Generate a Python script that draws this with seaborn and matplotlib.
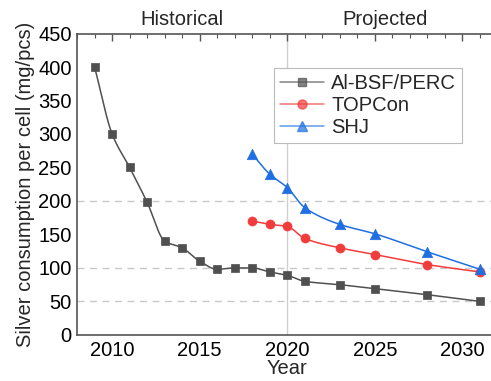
import numpy as np
import pandas as pd
import matplotlib
matplotlib.use("Agg")
import matplotlib.pyplot as plt
from matplotlib.lines import Line2D
from matplotlib.ticker import MultipleLocator
import seaborn as sns

# Silver paste consumption per solar cell (mg/pcs)
perc_years = [2009, 2010, 2011, 2012, 2013, 2014, 2015, 2016, 2017, 2018,
              2019, 2020, 2021, 2023, 2025, 2028, 2031]
perc_vals = [400, 300, 250, 198, 140, 130, 110, 98, 100, 100,
             94, 89, 80, 75, 69, 60, 50]

topcon_years = [2018, 2019, 2020, 2021, 2023, 2025, 2028, 2031]
topcon_vals = [170, 165, 162, 144, 130, 120, 105, 94]

shj_years = [2018, 2019, 2020, 2021, 2023, 2025, 2028, 2031]
shj_vals = [270, 240, 220, 190, 165, 151, 124, 98]

series_names = ["Al-BSF/PERC", "TOPCon", "SHJ"]
colors = ["#505050", "#F23C3C", "#1F6FE3"]
markers = ["s", "o", "^"]
marker_sizes = [6, 6.5, 7.5]


def pchip(x, y, n=400):
    """Shape-preserving cubic curve through the points (x, y)."""
    x = np.asarray(x, float)
    y = np.asarray(y, float)
    h = np.diff(x)
    d = np.diff(y) / h
    m = np.zeros_like(y)
    for k in range(1, len(x) - 1):
        if d[k - 1] * d[k] > 0:
            w1 = 2 * h[k] + h[k - 1]
            w2 = h[k] + 2 * h[k - 1]
            m[k] = (w1 + w2) / (w1 / d[k - 1] + w2 / d[k])
    m[0] = d[0]
    m[-1] = d[-1]
    xs = np.linspace(x[0], x[-1], n)
    idx = np.clip(np.searchsorted(x, xs) - 1, 0, len(x) - 2)
    t = (xs - x[idx]) / h[idx]
    h00 = 2 * t**3 - 3 * t**2 + 1
    h10 = t**3 - 2 * t**2 + t
    h01 = -2 * t**3 + 3 * t**2
    h11 = t**3 - t**2
    ys = (h00 * y[idx] + h10 * h[idx] * m[idx]
          + h01 * y[idx + 1] + h11 * h[idx] * m[idx + 1])
    return xs, ys


sns.set_theme(style="white")
plt.rcParams["font.family"] = ["Liberation Sans", "DejaVu Sans"]

FS = 14.5

fig = plt.figure(figsize=(4.91, 3.81), dpi=100)
ax = fig.add_axes([0.157, 0.121, 0.856, 0.791])

# reference lines
for yv in [50, 100, 200]:
    ax.axhline(yv, color="#c8c8c8", lw=1.0, ls=(0, (5, 4)), zorder=0)
ax.axvline(2020, color="#d0d0d0", lw=1.0, zorder=0)

data = [(perc_years, perc_vals), (topcon_years, topcon_vals), (shj_years, shj_vals)]
handles = []
for (xs, ys), name, c, mk, ms in zip(data, series_names, colors, markers, marker_sizes):
    cx, cy = pchip(xs, ys)
    curve = pd.DataFrame({"Year": cx, "value": cy})
    sns.lineplot(data=curve, x="Year", y="value", ax=ax, color=c, lw=1.1,
                 legend=False, zorder=2)
    pts = pd.DataFrame({"Year": xs, "value": ys})
    sns.scatterplot(data=pts, x="Year", y="value", ax=ax, color=c, marker=mk,
                    s=ms**2, edgecolor=c, linewidth=0.5, legend=False, zorder=3)
    handles.append(Line2D([], [], color=c, lw=1.1, alpha=0.7, marker=mk,
                          markersize=ms, markerfacecolor=c, markeredgecolor=c))

ax.set_xlim(2008, 2032)
ax.set_ylim(0, 450)
ax.xaxis.set_major_locator(MultipleLocator(5))
ax.xaxis.set_minor_locator(MultipleLocator(1))
ax.yaxis.set_major_locator(MultipleLocator(50))
ax.yaxis.set_minor_locator(MultipleLocator(10))
ax.set_xticks([2010, 2015, 2020, 2025, 2030])

spine_c = "#555555"
for side in ["left", "bottom", "top"]:
    ax.spines[side].set_color(spine_c)
    ax.spines[side].set_linewidth(1.2)
ax.spines["right"].set_visible(False)

ax.tick_params(axis="both", which="both", direction="in", colors=spine_c,
               labelcolor="black", labelsize=FS, top=True, right=False)
ax.tick_params(which="major", length=5, width=1.0)
ax.tick_params(axis="x", which="major", pad=4.5)
ax.tick_params(axis="y", which="major", pad=4)
ax.tick_params(which="minor", length=3, width=0.8)

ax.set_xlabel("Year", fontsize=FS, labelpad=-1)
ax.set_ylabel("Silver consumption per cell (mg/pcs)", fontsize=FS, labelpad=2)

ax.text(2014, 457, "Historical", ha="center", va="bottom", fontsize=FS,
        clip_on=False)
ax.text(2025.6, 457, "Projected", ha="center", va="bottom", fontsize=FS,
        clip_on=False)

leg = ax.legend(handles, series_names, loc="upper left",
                bbox_to_anchor=(0.468, 0.887), fontsize=FS, frameon=True,
                fancybox=False, edgecolor="#bbbbbb", framealpha=1,
                handlelength=2.2, handletextpad=0.35, labelspacing=0.15,
                borderpad=0.3, borderaxespad=0)
leg.get_frame().set_linewidth(0.8)

fig.savefig("out.png", dpi=100)
